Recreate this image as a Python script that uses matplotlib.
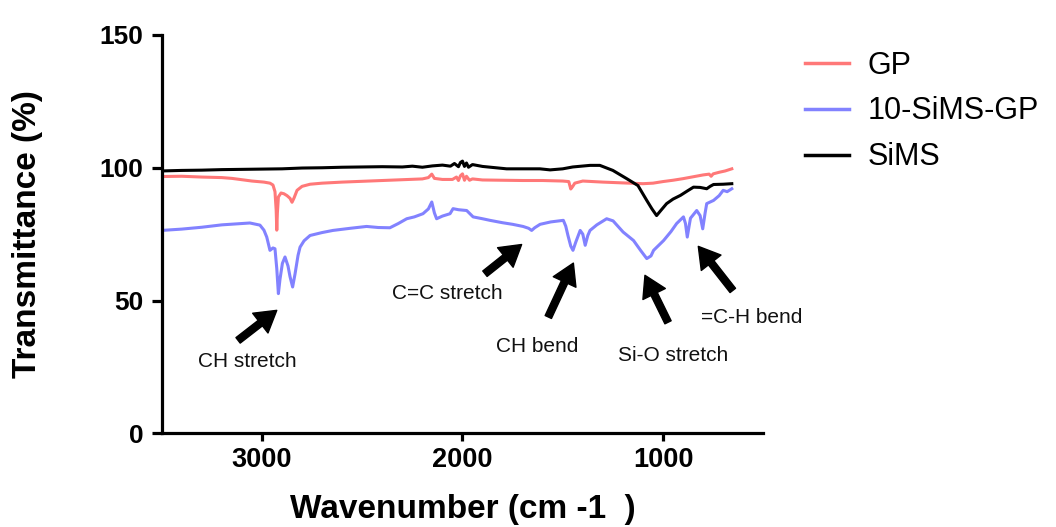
import matplotlib
matplotlib.use("Agg")
import matplotlib.pyplot as plt

plt.rcParams['font.family'] = ['Liberation Sans', 'DejaVu Sans']

# ---------------- data ----------------
gp_wn = [3500, 3400, 3300, 3200, 3150, 3100, 3050, 2990, 2960, 2945, 2935, 2929, 2926, 2923, 2918,
         2905, 2890, 2875, 2860, 2850, 2840, 2825, 2800, 2760, 2700, 2600, 2500, 2400, 2300,
         2200, 2170, 2153, 2140, 2100, 2050, 2030, 2020, 2010, 2000, 1990, 1980, 1965, 1950,
         1900, 1800, 1700, 1600, 1500, 1470, 1460, 1450, 1440, 1420, 1400, 1300, 1200, 1100,
         1050, 1000, 950, 900, 850, 800, 770, 760, 750, 720, 690, 657]
gp_t = [96.7, 96.8, 96.5, 96.3, 96.0, 95.5, 95.0, 94.6, 94.2, 93.5, 91.0, 84.0, 76.5, 83.0, 89.0,
        90.5, 90.2, 89.5, 88.5, 87.0, 88.6, 91.5, 93.0, 93.8, 94.2, 94.6, 94.9, 95.2, 95.5,
        95.8, 96.3, 97.6, 96.0, 95.6, 95.6, 96.5, 95.2, 97.0, 97.7, 95.3, 96.8, 95.3, 95.8,
        95.4, 95.3, 95.2, 95.2, 95.0, 94.8, 92.0, 93.0, 94.2, 94.6, 95.0, 94.6, 94.3, 94.0,
        94.2, 94.8, 95.3, 95.9, 96.6, 97.3, 97.6, 96.8, 97.7, 98.3, 98.8, 99.6]

sims_gp_wn = [3500, 3400, 3300, 3200, 3100, 3060, 3010, 2990, 2976, 2960, 2945, 2935, 2926, 2918,
              2910, 2898, 2885, 2870, 2860, 2847, 2835, 2820, 2810, 2790, 2760, 2700, 2646, 2560,
              2478, 2420, 2362, 2320, 2278, 2240, 2197, 2170, 2153, 2140, 2129, 2100, 2062,
              2047, 2020, 1979, 1947, 1900, 1863, 1800, 1750, 1698, 1670, 1655, 1640, 1613,
              1560, 1497, 1485, 1474, 1460, 1449, 1435, 1413, 1400, 1388, 1375, 1364, 1330,
              1281, 1249, 1199, 1147, 1112, 1081, 1060, 1047, 997, 960, 932, 898, 888, 879, 870,
              863, 832, 815, 802, 790, 782, 748, 720, 700, 680, 657]
sims_gp_t = [76.4, 76.9, 77.6, 78.5, 79.0, 79.2, 78.4, 76.5, 73.9, 68.9, 69.8, 69.5, 62.0, 52.6,
             58.0, 64.0, 66.4, 63.0, 59.0, 55.1, 60.0, 67.0, 70.1, 72.5, 74.5, 75.6, 76.4, 77.2,
             77.9, 77.5, 77.4, 79.0, 80.8, 81.5, 82.7, 84.5, 87.1, 83.0, 80.8, 81.8, 82.7,
             84.6, 84.2, 83.9, 81.5, 80.8, 80.2, 79.3, 78.7, 77.9, 77.2, 76.4, 77.4, 78.7,
             79.6, 80.2, 78.0, 74.5, 70.5, 68.9, 72.0, 76.4, 75.0, 70.8, 74.5, 76.4, 78.5,
             80.8, 80.0, 75.8, 72.6, 68.9, 65.8, 66.8, 68.9, 72.6, 76.0, 79.0, 81.5, 79.0, 73.9, 78.0,
             81.0, 83.9, 82.0, 77.0, 83.0, 86.5, 87.7, 89.5, 91.5, 91.0, 92.1]

sims_wn = [3500, 3400, 3300, 3200, 3100, 3000, 2900, 2800, 2700, 2600, 2500, 2400, 2300, 2250,
           2200, 2150, 2100, 2060, 2040, 2020, 2010, 2000, 1990, 1980, 1970, 1950, 1900, 1780,
           1700, 1614, 1563, 1500, 1450, 1364, 1315, 1250, 1181, 1125, 1081, 1055, 1032, 1010,
           982, 950, 913, 880, 848, 815, 782, 765, 748, 700, 657]
sims_t = [98.8, 99.0, 99.1, 99.3, 99.4, 99.5, 99.6, 99.9, 100.0, 100.2, 100.3, 100.4, 100.3, 100.6,
          100.2, 100.7, 101.0, 100.6, 101.6, 100.4, 102.0, 102.5, 100.5, 101.8, 100.2, 101.2, 100.5, 99.6,
          99.6, 99.6, 99.2, 99.6, 100.3, 100.9, 100.9, 99.0, 95.9, 93.3, 87.7, 84.5, 82.0, 84.0,
          86.5, 88.2, 89.6, 91.2, 92.7, 92.6, 92.1, 93.0, 93.7, 93.8, 94.0]

series_names = ["GP", "10-SiMS-GP", "SiMS"]
series_colors = ["#FF7878", "#8282FF", "#000000"]

x_ticks = [3000, 2000, 1000]
y_ticks = [0, 50, 100, 150]

annotations = [
    # (label, head_wn, head_T, tail_wn, tail_T, text_wn, text_T)
    ("CH stretch", 2926, 46.3, 3119, 35.0, 3071, 27.2),
    ("C=C stretch", 1705, 71.1, 1888, 60.1, 2077, 52.7),
    ("CH bend", 1447, 64.1, 1572, 43.8, 1628, 32.7),
    ("Si-O stretch", 1090, 59.5, 975, 41.8, 950, 29.4),
    ("=C-H bend", 824, 70.4, 652, 53.8, 556, 43.7),
]

# ---------------- figure ----------------
fig = plt.figure(figsize=(10.56, 5.27), dpi=100)
ax = fig.add_axes([0.1531, 0.1778, 0.5697, 0.7558])

lines = []
for wn, t, name, c in zip([gp_wn, sims_gp_wn, sims_wn], [gp_t, sims_gp_t, sims_t],
                          series_names, series_colors):
    ln, = ax.plot(wn, t, color=c, lw=2.2, label=name, solid_joinstyle='round')
    lines.append(ln)

ax.set_xlim(3500, 500)
ax.set_ylim(0, 150)
ax.set_xticks(x_ticks)
ax.set_yticks(y_ticks)
ax.set_xticklabels([str(v) for v in x_ticks], fontsize=19.5, fontweight='bold')
ax.set_yticklabels([str(v) for v in y_ticks], fontsize=19, fontweight='bold')

for s in ['top', 'right']:
    ax.spines[s].set_visible(False)
for s in ['left', 'bottom']:
    ax.spines[s].set_linewidth(2.3)
ax.tick_params(axis='y', direction='out', length=7, width=2.3, pad=6)
ax.tick_params(axis='x', direction='out', length=6, width=2.3, pad=4)

ax.set_xlabel("Wavenumber (cm -1  )", fontsize=24, fontweight='bold')
ax.set_ylabel("Transmittance (%)", fontsize=24, fontweight='bold')
ax.yaxis.set_label_coords(-0.197, 0.5)
ax.xaxis.set_label_coords(0.5, -0.153)

for label, hx, hy, tx, ty, lx, ly in annotations:
    ax.annotate("", xy=(hx, hy), xytext=(tx, ty),
                arrowprops=dict(facecolor='black', edgecolor='black', width=5,
                                headwidth=18, headlength=15, shrink=0))
    ax.text(lx, ly, label, fontsize=15, ha='center', va='center', color='#111111')

leg = fig.legend(handles=lines, labels=series_names, loc='upper left',
                 bbox_to_anchor=(0.762, 0.904), frameon=False, fontsize=22,
                 handlelength=1.45, handletextpad=0.62, labelspacing=0.52,
                 borderpad=0, borderaxespad=0)
for h in leg.legend_handles:
    h.set_linewidth(2.5)

fig.savefig("out.png", dpi=100)
